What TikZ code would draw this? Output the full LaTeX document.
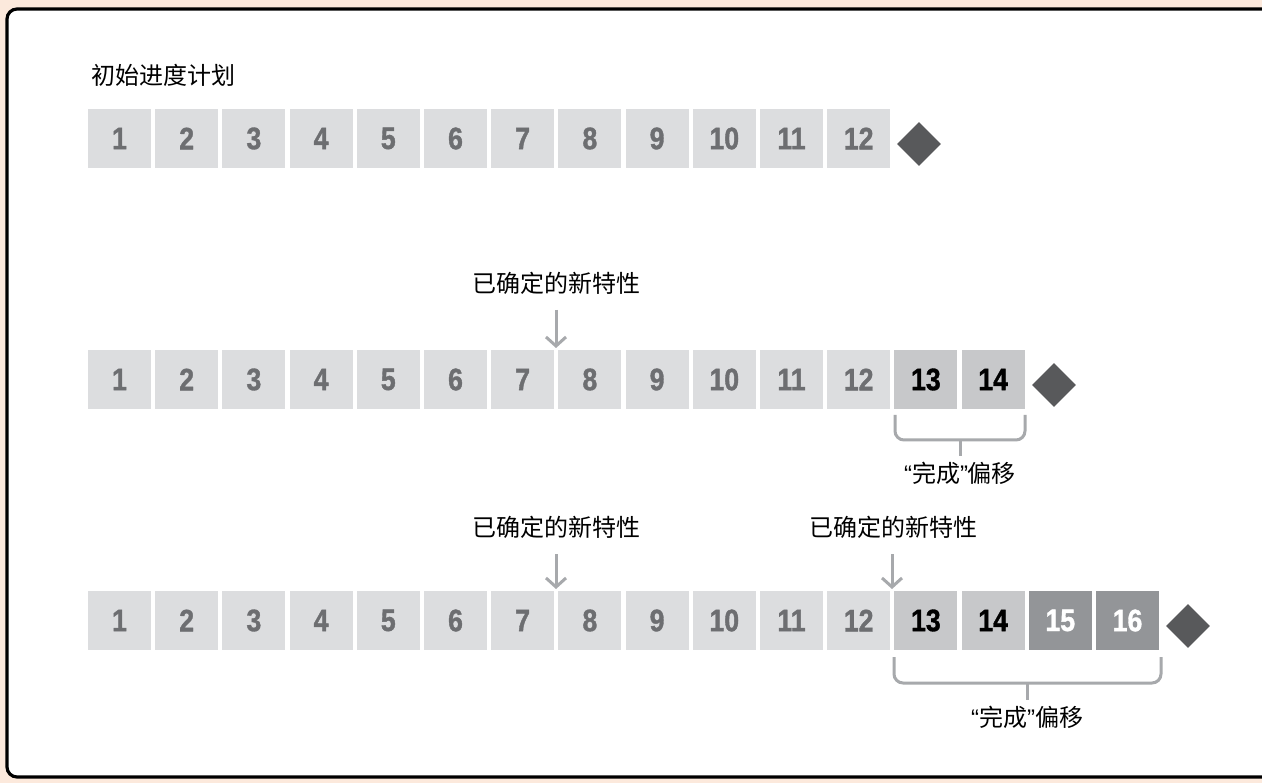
\documentclass[tikz,border=0pt]{standalone}
\usepackage{fontspec}
\setmainfont{Liberation Sans}
\newfontfamily\cjk{Noto Sans CJK SC}
\newfontfamily\numfont[FakeStretch=0.86,FakeBold=1.2]{Liberation Sans Bold}
\usetikzlibrary{arrows.meta,shapes.geometric}
\definecolor{peach}{HTML}{FCE9DC}
\definecolor{lightbox}{HTML}{DCDDDF}
\definecolor{midbox}{HTML}{C7C8CA}
\definecolor{darkbox}{HTML}{939598}
\definecolor{numgray}{HTML}{6D6E71}
\definecolor{dia}{HTML}{58595B}
\definecolor{linegray}{HTML}{A7A9AC}
\tikzset{
  cell/.style={minimum width=63pt, minimum height=59pt, inner sep=0pt, font=\fontsize{31}{33}\selectfont\numfont},
  lbox/.style={cell, fill=lightbox, text=numgray},
  mbox/.style={cell, fill=midbox, text=black},
  dbox/.style={cell, fill=darkbox, text=white},
  milestone/.style={diamond, aspect=1, minimum width=44pt, minimum height=44pt, inner sep=0pt, fill=dia},
  cjklabel/.style={font=\fontsize{24}{27}\selectfont\cjk, inner sep=0pt},
  arr/.style={draw=linegray, line width=3pt, -{Straight Barb[length=9pt,width=20pt,line width=3pt]}},
  brk/.style={draw=linegray, line width=3pt, rounded corners=9pt},
  stem/.style={draw=linegray, line width=3pt}
}
\begin{document}
\begin{tikzpicture}[x=1pt,y=-1pt]
\useasboundingbox (0,0) rectangle (1262,783);
\clip (0,0) rectangle (1262,783);
\fill[peach] (0,0) rectangle (1262,783);
\draw[line width=3.2pt, fill=white, rounded corners=10pt] (7,9) rectangle (1290,777);

% title
\node[cjklabel, anchor=west] (title) at (91,75) {初始进度计划};

% row 1
\foreach \i in {1,...,12} {
  \node[lbox] (a\i) at ({119.5+(\i-1)*67.2},138.5) {\i};
}
\node[milestone] (ma) at (919,144) {};

% row 2
\foreach \i in {1,...,12} {
  \node[lbox] (b\i) at ({119.5+(\i-1)*67.2},379.5) {\i};
}
\node[mbox] (b13) at ({119.5+12*67.2},379.5) {13};
\node[mbox] (b14) at ({119.5+13*67.2},379.5) {14};
\node[milestone] (mb) at (1054,385) {};

\node[cjklabel] (lb) at (556,283) {已确定的新特性};
\coordinate (tb) at (556,310);
\coordinate (hb) at (556,348);
\draw[arr] (tb) -- (hb);

\coordinate (b1l) at (895,415);
\coordinate (b1r) at (1025,415);
\coordinate (b1m) at (960,440);
\coordinate (b1s) at (960,456);
\draw[brk] (b1l) -- (895,440) -- (1025,440) -- (b1r);
\draw[stem] (b1m) -- (b1s);
\node[cjklabel] (ob) at (960,473) {{\rmfamily“}完成{\rmfamily”}偏移};

% row 3
\foreach \i in {1,...,12} {
  \node[lbox] (c\i) at ({119.5+(\i-1)*67.2},620.5) {\i};
}
\node[mbox] (c13) at ({119.5+12*67.2},620.5) {13};
\node[mbox] (c14) at ({119.5+13*67.2},620.5) {14};
\node[dbox] (c15) at ({119.5+14*67.2},620.5) {15};
\node[dbox] (c16) at ({119.5+15*67.2},620.5) {16};
\node[milestone] (mc) at (1188,626) {};

\node[cjklabel] (lc1) at (556,527) {已确定的新特性};
\coordinate (tc1) at (556,554);
\coordinate (hc1) at (556,589);
\draw[arr] (tc1) -- (hc1);

\node[cjklabel] (lc2) at (893,527) {已确定的新特性};
\coordinate (tc2) at (892,554);
\coordinate (hc2) at (892,589);
\draw[arr] (tc2) -- (hc2);

\coordinate (c1l) at (894,657);
\coordinate (c1r) at (1161,657);
\coordinate (c1m) at (1027,683);
\coordinate (c1s) at (1027,700);
\draw[brk] (c1l) -- (894,683) -- (1161,683) -- (c1r);
\draw[stem] (c1m) -- (c1s);
\node[cjklabel] (oc) at (1027,717) {{\rmfamily“}完成{\rmfamily”}偏移};
\end{tikzpicture}
\end{document}
